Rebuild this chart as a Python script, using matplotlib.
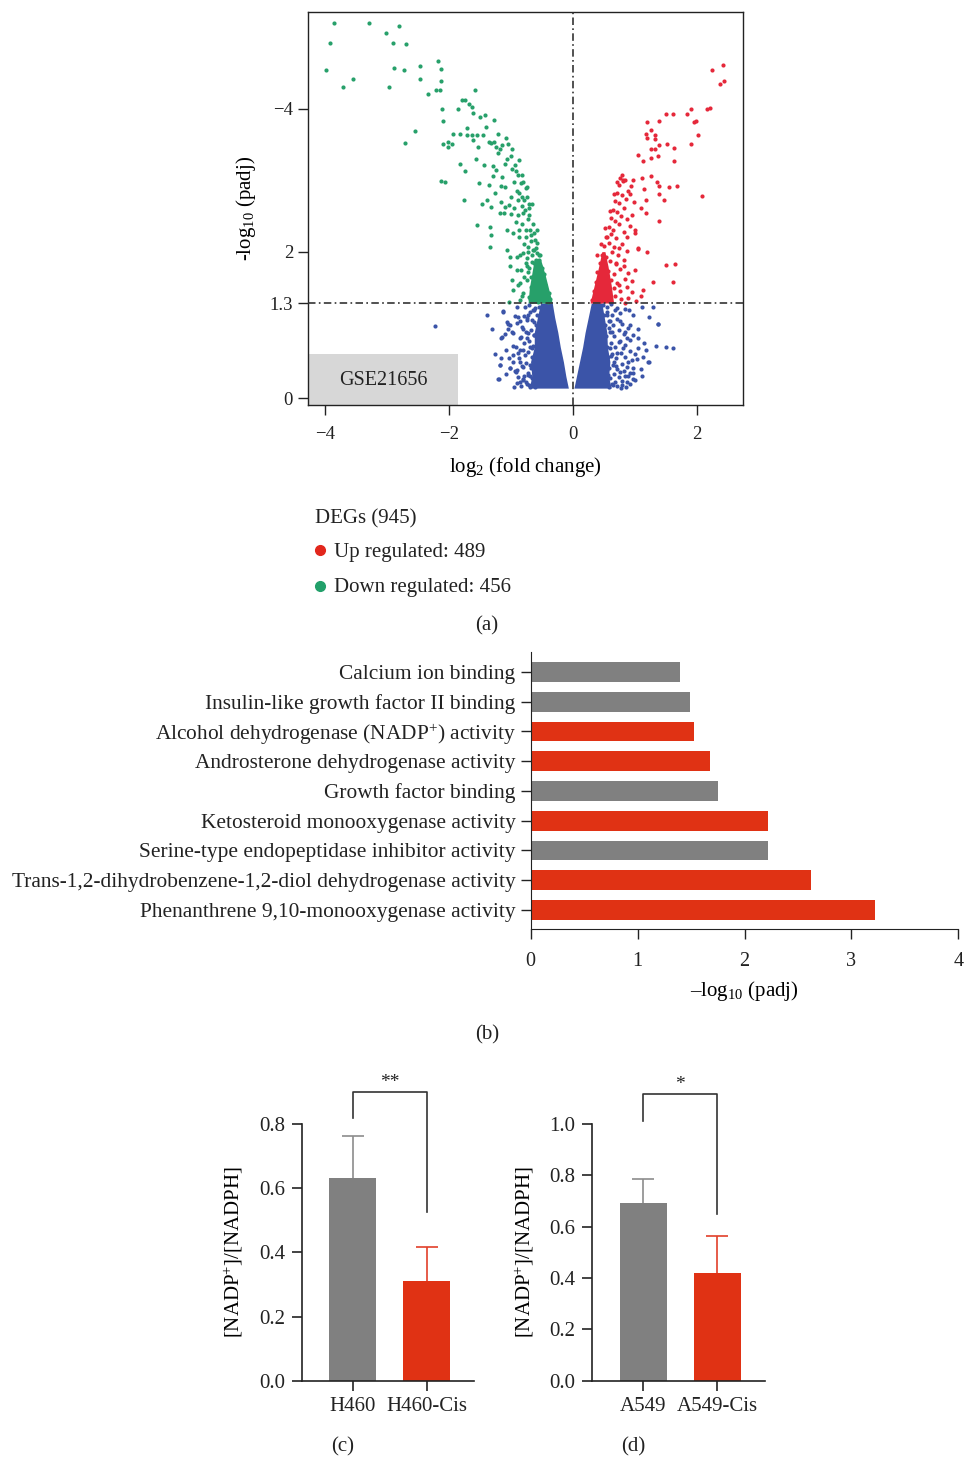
import numpy as np
import matplotlib.pyplot as plt
from matplotlib.patches import Rectangle
from matplotlib.lines import Line2D

plt.rcParams['font.family'] = ['Liberation Serif', 'DejaVu Serif']
plt.rcParams['mathtext.fontset'] = 'custom'
plt.rcParams['mathtext.rm'] = 'Liberation Serif'
plt.rcParams['mathtext.it'] = 'Liberation Serif:italic'
plt.rcParams['text.color'] = '#222222'
plt.rcParams['axes.edgecolor'] = '#222222'
plt.rcParams['xtick.color'] = '#222222'
plt.rcParams['ytick.color'] = '#222222'

# ---------------- (a) volcano plot ----------------
# down regulated genes (log2 FC, -log10 padj)
down_x = [-3.85, -3.28, -2.80, -3.91, -3.01, -2.90, -2.69, -3.98, -3.55, -3.71, -2.97, -2.88,
          -2.72, -2.46, -2.46, -2.18, -2.13, -2.13, -2.34, -2.20, -2.14, -1.58, -1.78, -1.74,
          -1.67, -1.62, -1.85, -2.11, -2.10, -1.61, -1.49, -1.41, -1.27, -1.71, -2.54, -2.70,
          -1.93, -1.81, -1.71, -1.63, -1.54, -1.44, -2.10, -2.01, -1.95, -2.01, -1.61, -1.53,
          -1.35, -1.31, -1.27, -1.23, -1.17, -1.14, -1.04, -1.82, -1.74, -1.56, -1.43, -1.29,
          -1.23, -1.06, -0.98, -0.93, -0.88, -2.13, -2.06, -1.51, -1.28, -1.14, -1.15, -1.09,
          -1.26, -1.35, -1.76, -1.46, -1.38, -1.32, -1.16, -1.10, -1.02, -0.83, -0.86, -0.81,
          -0.70, -0.77, -1.17, -1.11, -1.00, -0.89, -1.54, -1.34, -1.32, -1.33, -1.06, -0.96,
          -0.86, -0.81, -0.69, -0.63, -0.61, -1.06, -1.01, -0.90, -0.80, -0.72, -0.63, -0.58,
          -0.54, -1.01, -0.90, -0.74, -0.63, -0.53, -0.47, -0.98, -0.85, -0.74, -0.63, -0.53,
          -0.45, -0.96, -0.80, -0.63, -0.53, -0.39, -1.02, -0.85, -0.69, -0.53, -0.37,
          -0.40, -0.45, -0.50, -0.56, -0.60, -0.65, -0.42, -0.48, -0.55, -0.60, -0.66, -0.71,
          -0.44, -0.50, -0.57, -0.62, -0.68, -0.48, -0.55, -0.60, -0.68, -0.72, -0.50, -0.58,
          -0.66, -0.70, -0.54, -0.60, -0.66, -0.74, -0.58, -0.67, -0.75, -0.64, -0.72, -0.80,
          -0.70, -0.78, -0.90, -0.76, -0.95, -0.82, -1.00,
          -0.82, -0.88, -0.78, -0.84, -0.76, -0.85, -0.72, -0.78, -0.68, -0.76, -0.86, -0.92,
          -0.70, -0.82, -0.95, -0.74, -0.88, -1.00, -0.80, -0.92, -1.10, -0.86, -1.20, -0.98,
          -1.08, -1.20, -1.40, -0.64, -0.60, -0.52, -0.57, -0.66, -0.73]
down_y = [5.11, 5.11, 5.08, 4.84, 4.98, 4.84, 4.83, 4.48, 4.35, 4.24, 4.24, 4.50,
          4.48, 4.53, 4.35, 4.60, 4.49, 4.32, 4.15, 4.20, 4.20, 4.20, 4.06, 4.06,
          4.01, 3.97, 3.95, 3.95, 3.78, 3.89, 3.83, 3.86, 3.79, 3.69, 3.65, 3.48,
          3.61, 3.60, 3.59, 3.59, 3.59, 3.59, 3.47, 3.49, 3.47, 3.43, 3.52, 3.42,
          3.49, 3.48, 3.50, 3.43, 3.40, 3.45, 3.47, 3.19, 3.10, 3.26, 3.18, 3.17,
          3.11, 3.26, 3.13, 3.18, 3.05, 2.96, 2.95, 2.94, 3.03, 3.02, 2.89, 2.88,
          2.80, 2.91, 2.70, 2.65, 2.70, 2.61, 2.67, 2.61, 2.63, 2.93, 2.80, 2.75,
          2.65, 2.57, 2.52, 2.52, 2.51, 2.50, 2.36, 2.34, 2.22, 2.07, 2.30, 2.25,
          2.30, 2.38, 2.30, 2.25, 2.16, 2.02, 1.93, 1.93, 1.98, 2.07, 2.02, 1.98,
          1.89, 1.80, 1.75, 1.80, 1.84, 1.80, 1.70, 1.61, 1.57, 1.61, 1.66, 1.61,
          1.52, 1.48, 1.43, 1.48, 1.43, 1.43, 1.32, 1.34, 1.36, 1.34, 1.36,
          1.32, 1.33, 1.35, 1.32, 1.35, 1.33, 1.40, 1.45, 1.40, 1.46, 1.41, 1.38,
          1.55, 1.52, 1.55, 1.58, 1.52, 1.65, 1.68, 1.72, 1.66, 1.72, 1.78, 1.82,
          1.86, 1.78, 1.95, 2.05, 1.96, 1.92, 2.12, 2.14, 2.20, 2.38, 2.45, 2.52,
          2.60, 2.70, 2.82, 2.87, 2.95, 3.05, 3.30,
          1.40, 1.55, 1.65, 1.75, 1.85, 1.95, 2.00, 2.10, 2.22, 2.30, 2.20, 2.40,
          2.50, 2.62, 2.60, 2.75, 2.70, 2.75, 2.95, 3.10, 3.20, 3.25, 3.35, 3.40,
          3.55, 3.60, 3.70, 2.02, 1.88, 1.95, 2.30, 2.65, 2.88]

# up regulated genes
up_x = [2.42, 2.24, 2.37, 2.44, 2.16, 2.21, 1.85, 1.91, 1.95, 1.99, 2.02, 1.91, 2.09,
        1.50, 1.62, 1.39, 1.20, 1.26, 1.19, 1.33, 1.33, 1.20, 1.39, 1.52, 1.27, 1.32,
        1.63, 1.06, 1.26, 1.38, 1.13, 1.63, 1.27, 1.11, 0.97, 0.81, 1.36, 1.39, 1.56,
        1.69, 1.40, 1.48, 1.19, 1.19, 1.40, 1.01, 1.05, 1.20, 1.50, 1.65, 1.30, 1.62, 1.13,
        0.31, 0.37, 0.44, 0.52, 0.60, 0.68, 0.78, 0.90, 1.02,
        0.34, 0.41, 0.49, 0.58, 0.67, 0.76, 0.87,
        0.37, 0.45, 0.53, 0.62, 0.72, 0.84, 0.96,
        0.40, 0.48, 0.57, 0.66, 0.76, 0.89,
        0.44, 0.51, 0.60, 0.70, 0.82,
        0.47, 0.54, 0.63, 0.73, 0.87,
        0.51, 0.58, 0.67, 0.79,
        0.54, 0.61, 0.70, 0.82,
        0.58, 0.65, 0.74, 0.93,
        0.61, 0.68, 0.78, 0.88,
        0.65, 0.71, 0.82,
        0.68, 0.75, 0.86, 0.99,
        0.71, 0.79, 0.90,
        0.74, 0.81, 0.94, 0.77,
        0.40, 0.46, 0.52, 0.55, 0.60, 0.66, 0.72, 0.80, 0.85, 0.92, 0.95, 1.00,
        1.10, 0.88, 0.75, 0.70, 0.82, 1.00, 0.95, 1.10, 0.85, 0.75, 1.05, 1.15]
up_y = [4.55, 4.47, 4.29, 4.32, 3.94, 3.96, 3.88, 3.94, 3.76, 3.78, 3.59, 3.47, 2.76,
        3.88, 3.87, 3.78, 3.76, 3.66, 3.61, 3.59, 3.53, 3.55, 3.46, 3.47, 3.40, 3.40,
        3.41, 3.32, 3.27, 3.30, 3.23, 3.23, 3.03, 3.00, 2.97, 2.97, 2.95, 2.89, 2.88,
        2.89, 2.79, 2.70, 2.70, 2.52, 2.42, 2.25, 2.04, 2.00, 1.82, 1.83, 1.58, 1.58, 1.48,
        1.34, 1.38, 1.33, 1.37, 1.34, 1.39, 1.35, 1.37, 1.33,
        1.47, 1.44, 1.49, 1.45, 1.50, 1.46, 1.52,
        1.58, 1.61, 1.56, 1.62, 1.57, 1.63, 1.60,
        1.72, 1.68, 1.74, 1.70, 1.76, 1.71,
        1.84, 1.81, 1.87, 1.83, 1.88,
        1.96, 1.93, 1.99, 1.95, 2.01,
        2.08, 2.12, 2.06, 2.11,
        2.20, 2.24, 2.18, 2.27,
        2.33, 2.30, 2.37, 2.35,
        2.46, 2.42, 2.49, 2.44,
        2.57, 2.54, 2.60,
        2.69, 2.66, 2.72, 2.68,
        2.80, 2.77, 2.83,
        2.91, 2.96, 2.89, 3.00,
        1.95, 2.10, 2.32, 2.20, 2.55, 2.78, 2.95, 3.05, 2.98, 2.78, 2.50, 2.30,
        2.60, 2.20, 2.05, 1.85, 1.80, 1.75, 1.45, 1.40, 1.30, 1.55, 2.05, 2.85]

# non-significant genes: scattered points around the two dense wedges
ns_x = [-2.22, -1.39, -1.13, -1.06, -1.01, -1.04, -1.14, -1.08, -1.15, -1.18, -1.19, -0.98,
        -0.91, -0.96, -1.01, -0.91, -0.85, -0.80, -0.74, -0.85, -0.61, -0.63, -0.74, -0.66,
        -0.77, -0.69, -0.80, -0.74, -0.61, -0.63, -0.85, -0.90, -0.96, -0.80, -0.72, -0.85,
        -0.55, -0.58, -0.69, -1.20, -1.17, -1.15, -1.13, -1.04, -0.96, -1.01, -0.90, -0.85,
        -0.72, -0.69, -0.63, -0.88, -0.74, -0.63, -0.58, -0.69, -0.61, -0.80, -0.55, -0.69,
        -0.70, -0.76, -0.83, -0.90, -0.95, -0.66, -0.72, -0.79, -0.88, -0.93, -0.68, -0.75,
        -0.82, -0.87, -0.66, -0.72, -0.80, -0.89, -0.64, -0.70, -0.78, -0.84, -0.62, -0.68,
        -0.75, -0.82, -0.90, -0.60, -0.66, -0.72, -0.79, -0.58, -0.64, -0.70, -0.77, -0.55,
        -1.02, -1.08, -0.97, -1.10, -0.93, -1.25, -1.30,
        1.62, 1.50, 1.35, 1.23, 1.14, 1.15, 1.37, 1.23, 1.30, 1.12, 0.98, 0.91, 0.92, 0.98,
        1.06, 1.03, 0.98, 0.98, 0.87, 0.90, 0.81, 0.84, 0.76, 0.74, 0.66, 0.76, 0.68, 0.63,
        0.71, 0.60, 0.57, 0.79, 0.55, 1.06, 0.87, 1.22, 1.38, 1.01, 0.92, 0.58, 0.62, 0.70,
        0.65, 0.72, 0.60, 0.85, 0.78,
        0.58, 0.64, 0.72, 0.80, 0.86, 0.93, 0.60, 0.67, 0.75, 0.83, 0.90, 0.97,
        0.58, 0.65, 0.72, 0.80, 0.88, 0.95, 0.57, 0.63, 0.70, 0.78, 0.85, 0.93,
        1.00, 0.55, 0.62, 0.69, 0.77, 0.84, 0.92, 0.53, 0.60, 0.67, 0.74, 0.82,
        0.89, 0.52, 0.58, 0.65, 0.72, 0.80, 0.50, 0.56, 0.63, 0.69, 0.76, 0.84,
        0.49, 0.55, 0.62, 1.10, 1.18, 1.05, 1.12]
ns_y = [0.98, 1.13, 1.19, 1.04, 1.00, 0.95, 0.83, 0.66, 0.55, 0.45, 0.27, 0.91,
        0.70, 0.50, 0.41, 0.36, 0.50, 0.95, 1.09, 1.05, 1.23, 1.04, 0.82, 0.68,
        0.59, 0.45, 0.27, 0.20, 0.27, 0.86, 0.82, 1.25, 0.59, 0.43, 0.32, 0.23,
        0.54, 0.77, 1.18, 0.27, 0.45, 0.82, 1.18, 1.02, 0.89, 0.41, 0.39, 0.66,
        0.89, 0.30, 0.52, 1.11, 1.07, 1.20, 0.80, 0.16, 0.16, 0.25, 0.34, 0.70,
        0.18, 0.22, 0.17, 0.21, 0.16, 0.28, 0.35, 0.31, 0.29, 0.38, 0.42, 0.48,
        0.44, 0.55, 0.57, 0.63, 0.66, 0.62, 0.72, 0.78, 0.75, 0.83, 0.86, 0.93,
        0.90, 0.97, 1.03, 1.00, 1.07, 1.14, 1.12, 1.14, 1.21, 1.27, 1.24, 1.25,
        0.55, 0.33, 0.72, 0.88, 1.12, 0.60, 0.95,
        0.69, 0.70, 0.72, 0.50, 0.57, 0.76, 1.01, 1.11, 1.25, 1.25, 1.14, 1.20, 1.00, 0.86,
        0.68, 0.54, 0.41, 0.27, 0.23, 0.50, 0.68, 0.91, 1.05, 0.77, 0.50, 0.36, 0.23, 0.91,
        1.23, 0.68, 0.32, 0.18, 1.13, 0.82, 0.82, 0.50, 1.02, 0.25, 0.34, 0.96, 0.58, 0.44,
        0.18, 0.62, 1.05, 0.30, 0.14,
        0.16, 0.20, 0.17, 0.24, 0.16, 0.20, 0.28, 0.33, 0.29, 0.37, 0.31, 0.35,
        0.42, 0.46, 0.40, 0.47, 0.43, 0.52, 0.56, 0.60, 0.55, 0.62, 0.57, 0.64,
        0.60, 0.70, 0.75, 0.70, 0.78, 0.73, 0.80, 0.85, 0.90, 0.85, 0.93, 0.88,
        0.96, 1.00, 1.05, 1.00, 1.08, 1.02, 1.14, 1.18, 1.13, 1.21, 1.16, 1.22,
        1.27, 1.25, 1.28, 0.40, 0.66, 0.95, 0.30]

# envelopes of the dense (solid-looking) clouds
ns_left_y = [0.14, 0.30, 0.50, 0.70, 0.90, 1.10, 1.30]
ns_left_x0 = [-0.70, -0.66, -0.68, -0.62, -0.62, -0.57, -0.52]
ns_left_x1 = [-0.07, -0.11, -0.15, -0.20, -0.24, -0.29, -0.33]
ns_right_y = [0.14, 0.30, 0.50, 0.70, 0.90, 1.10, 1.30]
ns_right_x0 = [0.02, 0.06, 0.11, 0.16, 0.20, 0.25, 0.30]
ns_right_x1 = [0.62, 0.58, 0.60, 0.56, 0.55, 0.51, 0.47]
down_core_y = [1.30, 1.50, 1.70, 1.90]
down_core_x0 = [-0.72, -0.70, -0.66, -0.62]
down_core_x1 = [-0.33, -0.39, -0.45, -0.52]
up_core_y = [1.30, 1.55, 1.80, 2.00]
up_core_x0 = [0.28, 0.35, 0.42, 0.47]
up_core_x1 = [0.66, 0.62, 0.57, 0.52]

n_up, n_down = 489, 456

# ---------------- (b) GO terms ----------------
go_terms = ['Calcium ion binding',
            'Insulin-like growth factor II binding',
            'Alcohol dehydrogenase (NADP$\\mathregular{^{+}}$) activity',
            'Androsterone dehydrogenase activity',
            'Growth factor binding',
            'Ketosteroid monooxygenase activity',
            'Serine-type endopeptidase inhibitor activity',
            'Trans-1,2-dihydrobenzene-1,2-diol dehydrogenase activity',
            'Phenanthrene 9,10-monooxygenase activity']
go_values = [1.40, 1.49, 1.53, 1.68, 1.75, 2.22, 2.22, 2.62, 3.22]
go_up = [False, False, True, True, False, True, False, True, True]

# ---------------- (c), (d) NADP+/NADPH ----------------
c_groups = ['H460', 'H460-Cis']
c_means = [0.632, 0.311]
c_err = [0.130, 0.107]
d_groups = ['A549', 'A549-Cis']
d_means = [0.691, 0.421]
d_err = [0.096, 0.143]

GREEN = '#27a06a'
RED = '#e5283a'
BLUE = '#3b54a8'
GRAY = '#808080'
BAR_RED = '#e03214'

W, H = 967, 1458
fig = plt.figure(figsize=(W / 100, H / 100), dpi=100)


def box(l, t, r, b):
    return [l / W, 1 - b / H, (r - l) / W, (b - t) / H]


# ----- panel a -----
ax = fig.add_axes(box(308.3, 11.7, 743.3, 405))
ax.set_xlim(-4.265, 2.752)
ax.set_ylim(-0.09, 5.27)
ax.add_patch(Rectangle((-4.265, -0.09), 2.415, 0.69, color='#d7d7d7', lw=0, zorder=0))
ax.text(-3.06, 0.25, 'GSE21656', ha='center', va='center', fontsize=14.5)

ax.fill_betweenx(ns_left_y, ns_left_x0, ns_left_x1, color=BLUE, lw=0, zorder=1)
ax.fill_betweenx(ns_right_y, ns_right_x0, ns_right_x1, color=BLUE, lw=0, zorder=1)
ax.fill_betweenx(down_core_y, down_core_x0, down_core_x1, color=GREEN, lw=0, zorder=1)
ax.fill_betweenx(up_core_y, up_core_x0, up_core_x1, color=RED, lw=0, zorder=1)
ax.scatter(ns_x, ns_y, s=9, color=BLUE, lw=0, zorder=2)
ax.scatter(down_x, down_y, s=9, color=GREEN, lw=0, zorder=2)
ax.scatter(up_x, up_y, s=9, color=RED, lw=0, zorder=2)

dash = (0, (4.5, 2, 1, 2))
ax.axvline(0, color='#333333', lw=1.2, ls=dash, zorder=3)
ax.axhline(1.3, color='#333333', lw=1.2, ls=dash, zorder=3)

ax.set_xticks([-4, -2, 0, 2])
ax.set_xticklabels(['\u22124', '\u22122', '0', '2'])
ax.set_yticks([0, 1.3, 2, 3.95])
ax.set_yticklabels(['0', '1.3', '2', '\u22124'])
ax.tick_params(labelsize=13.5, length=7, width=1, pad=4)
ax.tick_params(axis='x', pad=8)
for s in ax.spines.values():
    s.set_linewidth(1)
ax.set_xlabel('log$\\mathregular{_{2}}$ (fold change)', fontsize=15, labelpad=9)
ax.set_ylabel('-log$\\mathregular{_{10}}$ (padj)', fontsize=15, labelpad=8)

fig.text(315 / W, 1 - 519 / H, 'DEGs (945)', fontsize=15, va='center')
fig.add_artist(Line2D([320 / W], [1 - 550 / H], marker='o', ms=7, color='#e2261c',
                      transform=fig.transFigure))
fig.text(334 / W, 1 - 552 / H, f'Up regulated: {n_up}', fontsize=15, va='center')
fig.add_artist(Line2D([320 / W], [1 - 586 / H], marker='o', ms=7, color='#22a06a',
                      transform=fig.transFigure))
fig.text(334 / W, 1 - 588 / H, f'Down regulated: {n_down}', fontsize=15, va='center')
fig.text(487 / W, 1 - 626 / H, '(a)', fontsize=15, ha='center', va='center')

# ----- panel b -----
axb = fig.add_axes(box(530.7, 651.7, 958.3, 929.3))
ypos = np.arange(len(go_terms))[::-1]
axb.barh(ypos, go_values, height=0.66,
         color=[BAR_RED if u else GRAY for u in go_up])
axb.set_yticks(ypos)
axb.set_yticklabels(go_terms)
axb.set_xlim(0, 4)
axb.set_ylim(-0.65, 8.68)
axb.set_xticks([0, 1, 2, 3, 4])
axb.spines['top'].set_visible(False)
axb.spines['right'].set_visible(False)
axb.tick_params(axis='y', labelsize=15.4, length=7, width=1, pad=4)
axb.tick_params(axis='x', labelsize=14.5, length=7, width=1, pad=9)
axb.set_xlabel('\u2013log$\\mathregular{_{10}}$ (padj)', fontsize=15, labelpad=6)
fig.text(487 / W, 1 - 1035 / H, '(b)', fontsize=15, ha='center', va='center')


# ----- panels c and d -----
def nadp_panel(rect, groups, means, errs, ymax, yticks, bracket, stars, tag, tagx):
    a = fig.add_axes(rect)
    cols = [GRAY, BAR_RED]
    a.bar([0, 1], means, width=0.635, color=cols, zorder=2)
    for i in range(2):
        eb = a.errorbar(i, means[i], yerr=[[0], [errs[i]]], fmt='none',
                        ecolor=['#8c8c8c', '#e2402a'][i], elinewidth=1.2,
                        capsize=8, capthick=1.2, zorder=1)
        eb[1][0].set_visible(False)  # no cap at the bar top
    a.set_xlim(-0.686, 1.64)
    a.set_ylim(0, ymax)
    a.set_yticks(yticks)
    a.set_yticklabels([f'{t:.1f}' for t in yticks])
    a.set_xticks([0, 1])
    a.set_xticklabels(groups)
    a.spines['top'].set_visible(False)
    a.spines['right'].set_visible(False)
    for s in ('left', 'bottom'):
        a.spines[s].set_linewidth(1.2)
    a.tick_params(labelsize=15, length=7, width=1.2, pad=5)
    a.set_ylabel('[NADP$\\mathregular{^{+}}$]/[NADPH]', fontsize=15, labelpad=10)
    lo0, top, lo1 = bracket
    a.plot([0, 0, 1, 1], [lo0, top, top, lo1], color='#333333', lw=1.2, clip_on=False)
    a.text(0.5, top + 0.004 * ymax, stars, ha='center', va='bottom', fontsize=14,
           clip_on=False)
    fig.text(tagx / W, 1 - 1447 / H, tag, fontsize=15, ha='center', va='center')
    return a


nadp_panel(box(301.7, 1124, 474, 1380.7), c_groups, c_means, c_err, 0.8,
           [0.0, 0.2, 0.4, 0.6, 0.8], (0.818, 0.901, 0.527), '**', '(c)', 343)
nadp_panel(box(592.3, 1124, 765, 1380.7), d_groups, d_means, d_err, 1.0,
           [0.0, 0.2, 0.4, 0.6, 0.8, 1.0], (1.012, 1.118, 0.649), '*', '(d)', 633)

fig.savefig('out.png', dpi=100)
